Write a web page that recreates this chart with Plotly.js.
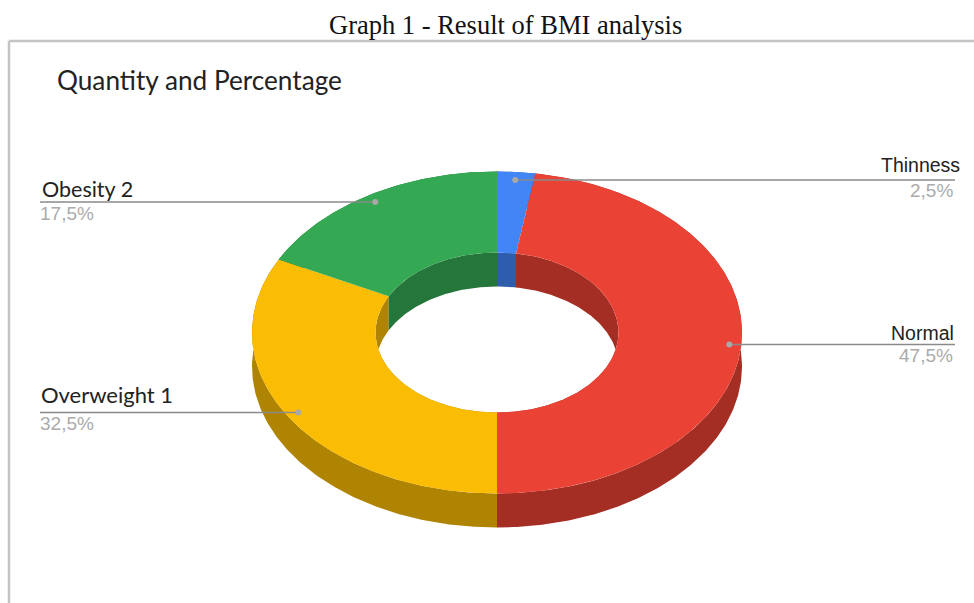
<!DOCTYPE html>
<html>
<head>
<meta charset="utf-8">
<script src="https://cdn.plot.ly/plotly-3.0.1.min.js"></script>
<style>html,body{margin:0;padding:0;background:#fff}#chart{width:974px;height:603px}</style>
</head>
<body>
<div id="chart"></div>
<script>
// Data
const categories = ["Thinness", "Normal", "Overweight 1", "Obesity 2"];
const percents = [2.5, 47.5, 32.5, 17.5];

// Styling
const topColors = ["#4285F4", "#EA4335", "#FBBC04", "#34A853"];
const outerWallColors = ["#2E5DAB", "#A52E24", "#B08403", "#24763A"];
const innerWallColors = ["#2E5DAB", "#A52E24", "#B08403", "#24763A"];

// Drawing geometry of the squashed ring (in page-sized axis units)
const cx = 497, cy = 332.5, outerRx = 245, outerRy = 161, innerRx = 121.5, innerRy = 80, depth = 34;
const dotRx = 233, dotRy = 153;
const leaderFar = [955, 955, 40, 40];
const labelAlignRight = [true, true, false, false];
const nameX = [962, 956, 39, 40];
const nameOffset = [-15, -12, -18, -13];
const nameSize = [19.5, 19.5, 22, 21.5];
const percentX = [955, 955, 38, 38];

function arc(rx, ry, a0, a1, dy) {
  const n = Math.max(2, Math.ceil(Math.abs(a1 - a0) * 1.5));
  const xs = [], ys = [];
  for (let i = 0; i <= n; i++) {
    const a = (a0 + (a1 - a0) * i / n) * Math.PI / 180;
    xs.push(cx + rx * Math.sin(a));
    ys.push(cy - ry * Math.cos(a) + dy);
  }
  return {xs, ys};
}
function band(A, B, color, name) {
  return {
    type: "scatter", mode: "lines", name: name,
    x: A.xs.concat(B.xs.slice().reverse()).concat([A.xs[0]]),
    y: A.ys.concat(B.ys.slice().reverse()).concat([A.ys[0]]),
    fill: "toself", fillcolor: color, line: {width: 0, color: color},
    hoverinfo: "skip"
  };
}

const total = percents.reduce((a, b) => a + b, 0);
const starts = [], ends = [];
percents.reduce((acc, v, i) => {
  starts[i] = acc / total * 360;
  ends[i] = (acc + v) / total * 360;
  return acc + v;
}, 0);

const traces = [];
categories.forEach((c, i) => traces.push(band(
  arc(outerRx, outerRy, starts[i], ends[i], depth),
  arc(outerRx, outerRy, starts[i], ends[i], 0), outerWallColors[i], c + " outer wall")));
categories.forEach((c, i) => traces.push(band(
  arc(innerRx, innerRy, starts[i], ends[i], 0),
  arc(innerRx, innerRy, starts[i], ends[i], depth), innerWallColors[i], c + " inner wall")));
categories.forEach((c, i) => traces.push(band(
  arc(outerRx, outerRy, starts[i], ends[i], 0),
  arc(innerRx, innerRy, starts[i], ends[i], 0), topColors[i], c)));

const annotations = [];
categories.forEach((c, i) => {
  const mid = (starts[i] + ends[i]) / 2 * Math.PI / 180;
  const dx = cx + dotRx * Math.sin(mid), dy = cy - dotRy * Math.cos(mid);
  traces.push({
    type: "scatter", mode: "lines", x: [dx, leaderFar[i]], y: [dy, dy],
    line: {color: "#8a8a8a", width: 1.6}, hoverinfo: "skip"
  });
  traces.push({
    type: "scatter", mode: "markers", x: [dx], y: [dy],
    marker: {color: "#a8a8a8", size: 6}, hoverinfo: "skip"
  });
  const right = labelAlignRight[i];
  annotations.push({
    x: nameX[i], y: dy + nameOffset[i], xref: "x", yref: "y",
    text: c, showarrow: false, xanchor: right ? "right" : "left", yanchor: "middle",
    font: {family: right ? "Liberation Sans" : "Lato", size: nameSize[i], color: "#222"}
  });
  annotations.push({
    x: percentX[i], y: dy + 11, xref: "x", yref: "y",
    text: percents[i].toFixed(1).replace(".", ",") + "%", showarrow: false,
    xanchor: right ? "right" : "left", yanchor: "middle",
    font: {family: "Liberation Sans", size: 19, color: "#ababab"}
  });
});

annotations.push({
  x: 505.5, y: 25, xref: "x", yref: "y", text: "Graph 1 - Result of BMI analysis",
  showarrow: false, xanchor: "center", yanchor: "middle",
  font: {family: "Liberation Serif", size: 26.5, color: "#111"}
});
annotations.push({
  x: 55, y: 80, xref: "x", yref: "y", text: "Quantity and Percentage",
  showarrow: false, xanchor: "left", yanchor: "middle",
  font: {family: "Lato", size: 26.2, color: "#222"}
});

const layout = {
  width: 974, height: 603,
  margin: {l: 0, r: 0, t: 0, b: 0},
  paper_bgcolor: "#fff", plot_bgcolor: "#fff",
  showlegend: false,
  xaxis: {range: [0, 974], visible: false, fixedrange: true},
  yaxis: {range: [603, 0], visible: false, fixedrange: true},
  annotations: annotations,
  shapes: [
    {type: "line", xref: "x", yref: "y", x0: 9, x1: 974, y0: 41, y1: 41, line: {color: "#c4c4c4", width: 2.5}},
    {type: "line", xref: "x", yref: "y", x0: 9, x1: 9, y0: 41, y1: 603, line: {color: "#c4c4c4", width: 2.5}}
  ]
};
Plotly.newPlot("chart", traces, layout, {displayModeBar: false, staticPlot: true});
</script>
</body>
</html>
